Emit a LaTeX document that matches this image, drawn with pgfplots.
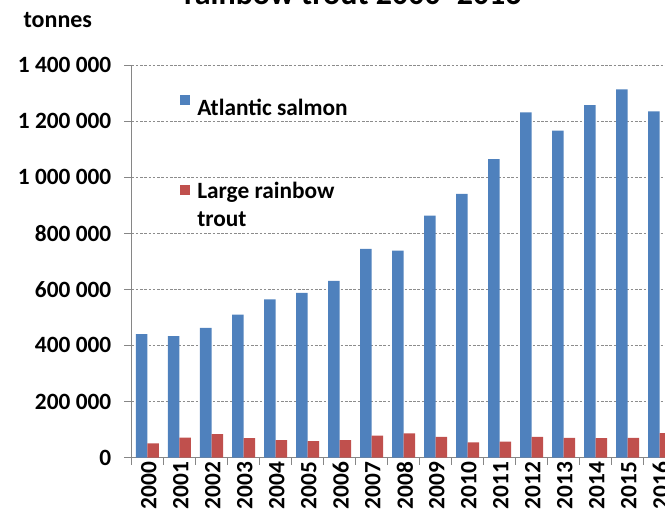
\documentclass[border=0pt]{standalone}
\usepackage{pgfplots}
\pgfplotsset{compat=1.18}
\usepackage{fontspec}
\setmainfont{Carlito}
\definecolor{salmonblue}{RGB}{79,129,189}
\definecolor{troutred}{RGB}{192,80,77}
\definecolor{axgray}{RGB}{134,134,134}
\definecolor{gridgray}{RGB}{140,140,140}
\begin{document}
\begin{tikzpicture}
\useasboundingbox (0,0) rectangle (498.75pt,-390.75pt);
\begin{scope}
\clip (0,0) rectangle (498.75pt,-390.75pt);
\begin{axis}[
  at={(98.625pt,-343.125pt)}, anchor=south west,
  scale only axis, width=408pt, height=294.375pt,
  xmin=-0.5, xmax=16.5, ymin=0, ymax=1400000,
  ybar=0pt, bar width=8.625pt,
  axis x line*=bottom, axis y line*=left,
  axis line style={axgray, line width=0.75pt},
  tick align=outside, major tick length=5.25pt,
  tick style={axgray, line width=0.75pt},
  scaled y ticks=false,
  ytick={0,200000,400000,600000,800000,1000000,1200000,1400000},
  yticklabels={0,200 000,400 000,600 000,800 000,1 000 000,1 200 000,1 400 000},
  yticklabel style={anchor=east, inner sep=0pt, xshift=-9.75pt, font=\fontsize{17.5}{21}\selectfont\bfseries},
  ymajorgrids, grid style={gridgray, dash pattern=on 2pt off 1.2pt, line width=0.75pt},
  xtick={-0.5,0.5,...,16.5}, xticklabels={},
  extra x ticks={0,1,...,16},
  extra x tick labels={2000,2001,2002,2003,2004,2005,2006,2007,2008,2009,2010,2011,2012,2013,2014,2015,2016},
  extra x tick style={major tick length=0pt, tick style={draw=none}},
  xticklabel style={rotate=90, anchor=east, inner sep=0pt, xshift=-3pt, yshift=-1pt, font=\fontsize{17.5}{21}\selectfont\bfseries},
  every axis y label/.style={at={(axis description cs:-0.207,1.0968)}, anchor=base west, font=\fontsize{18}{21}\selectfont\bfseries},
  ylabel={tonnes},
  every axis title shift=0pt,
  title={rainbow trout 2000–2016},
  title style={at={(axis description cs:0.407,1.1529)}, anchor=base, font=\fontsize{24}{28}\selectfont\bfseries},
  legend image code/.code={\fill[#1,draw=none] (0pt,3pt) rectangle (7.5pt,10.5pt);},
  legend style={at={(axis description cs:0.0892,0.925)}, anchor=north west, draw=none, fill=none,
    font=\fontsize{17.5}{21}\selectfont\bfseries, row sep=48.5pt, column sep=5.25pt,
    inner sep=0pt, nodes={inner sep=0pt}},
  legend cell align=left,
]
\addplot[fill=salmonblue, draw=none] coordinates {
(0,440000) (1,433000) (2,462000) (3,510000) (4,564000) (5,587000) (6,630000) (7,744000) (8,738000)
(9,863000) (10,940000) (11,1064000) (12,1231000) (13,1166000) (14,1257000) (15,1313000) (16,1235000)};
\addlegendentry{Atlantic salmon}
\addplot[fill=troutred, draw=none] coordinates {
(0,50000) (1,71000) (2,83000) (3,69000) (4,62000) (5,58000) (6,62000) (7,78000) (8,86000)
(9,74000) (10,54000) (11,57000) (12,74000) (13,70000) (14,69000) (15,70000) (16,87000)};
\addlegendentry[align=left, yshift=-5pt]{Large rainbow\\trout}
\end{axis}
\end{scope}
\end{tikzpicture}
\end{document}
